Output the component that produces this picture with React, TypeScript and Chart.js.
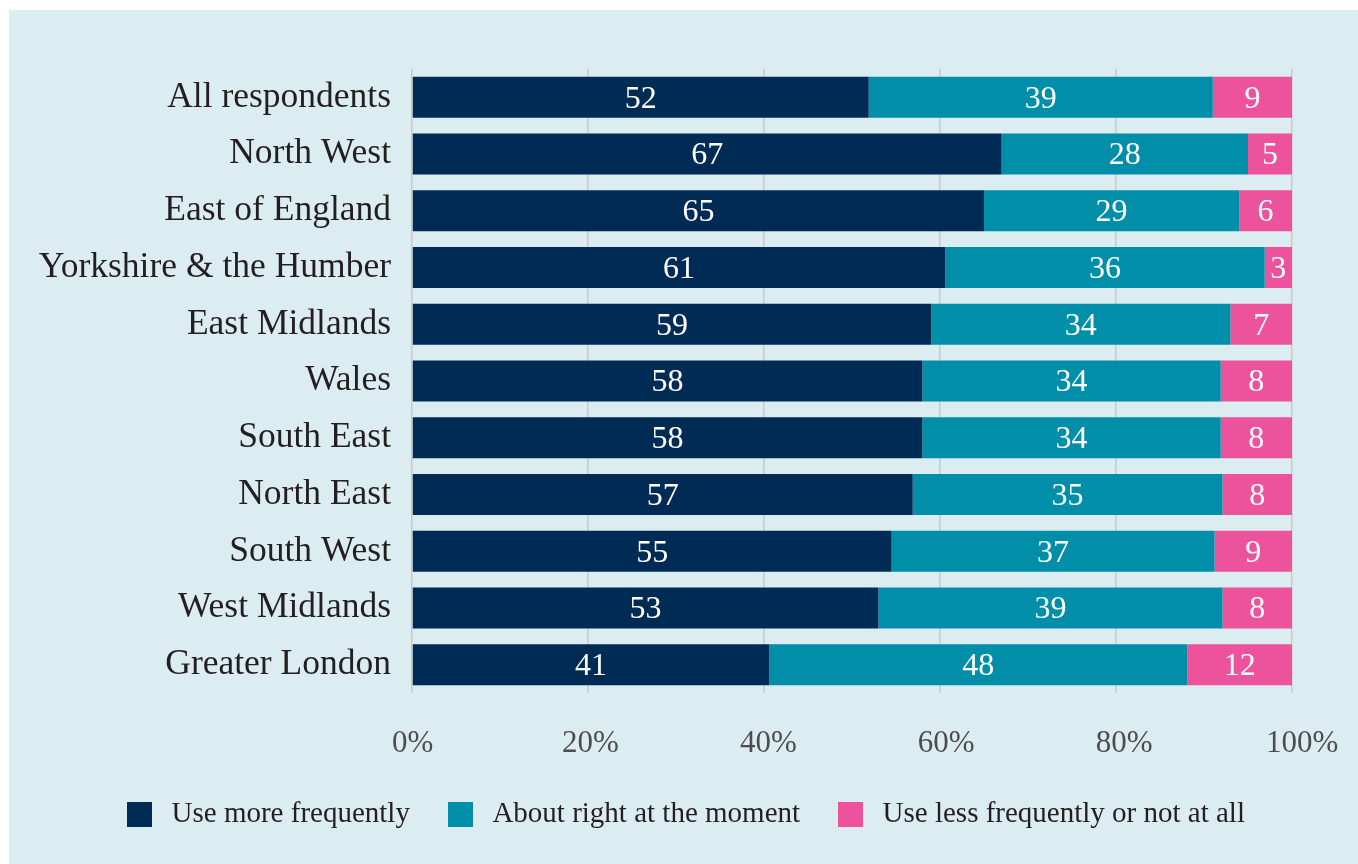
import React, { useEffect, useRef } from "react";
import { Chart, registerables } from "chart.js";

Chart.register(...registerables);

const categories = [
  "All respondents",
  "North West",
  "East of England",
  "Yorkshire & the Humber",
  "East Midlands",
  "Wales",
  "South East",
  "North East",
  "South West",
  "West Midlands",
  "Greater London",
];

const seriesNames = [
  "Use more frequently",
  "About right at the moment",
  "Use less frequently or not at all",
];

const useMore = [51.9, 67.0, 65.0, 60.6, 59.0, 58.0, 58.0, 56.9, 54.5, 53.0, 40.6];
const aboutRight = [39.1, 28.0, 29.0, 36.3, 34.0, 33.9, 33.9, 35.2, 36.7, 39.1, 47.5];
const useLess = [9.0, 5.0, 6.0, 3.1, 7.0, 8.1, 8.1, 7.9, 8.8, 7.9, 11.9];

const xTicks = [0, 20, 40, 60, 80, 100];

const COLORS = ["#002b55", "#008ea9", "#ec539c"];
const FONT = "'Liberation Serif', serif";

const segmentLabels = {
  id: "segmentLabels",
  afterDatasetsDraw(chart: any) {
    const ctx = chart.ctx;
    ctx.save();
    ctx.fillStyle = "#ffffff";
    ctx.font = `32px ${FONT}`;
    ctx.textAlign = "center";
    ctx.textBaseline = "middle";
    chart.data.datasets.forEach((ds: any, di: number) => {
      const meta = chart.getDatasetMeta(di);
      meta.data.forEach((el: any, i: number) => {
        const v = ds.data[i];
        const cx = (el.x + el.base) / 2;
        ctx.fillText(String(Math.round(v)), cx, el.y + 2);
      });
    });
    ctx.restore();
  },
};

function makeBox(color: string) {
  const c = document.createElement("canvas");
  c.width = 25;
  c.height = 25;
  const g = c.getContext("2d")!;
  g.fillStyle = color;
  g.fillRect(0, 0, 25, 25);
  return c;
}

export default function App() {
  const ref = useRef<HTMLCanvasElement | null>(null);

  useEffect(() => {
    if (!ref.current) return;
    const boxes = COLORS.map(makeBox);
    const chart = new Chart(ref.current, {
      type: "bar",
      data: {
        labels: categories,
        datasets: [useMore, aboutRight, useLess].map((d, i) => ({
          label: seriesNames[i],
          data: d,
          backgroundColor: COLORS[i],
          borderWidth: 0,
          barPercentage: 0.723,
          categoryPercentage: 1,
        })),
      },
      options: {
        indexAxis: "y",
        animation: false,
        responsive: false,
        maintainAspectRatio: false,
        layout: { padding: { left: 0, right: 0, top: 59, bottom: 25 } },
        scales: {
          x: {
            stacked: true,
            min: 0,
            max: 100,
            afterBuildTicks: (scale: any) => {
              scale.ticks = xTicks.map((v) => ({ value: v }));
            },
            afterFit: (scale: any) => {
              scale.height = 0;
              scale.paddingLeft = 0;
              scale.paddingRight = 0;
            },
            ticks: { display: false },
            grid: { color: "#c8cbce", lineWidth: 1.5, drawTicks: false },
            border: { display: false },
          },
          xLabels: {
            type: "linear",
            position: "bottom",
            min: -0.0675,
            max: 98.87,
            afterBuildTicks: (scale: any) => {
              scale.ticks = xTicks.map((v) => ({ value: v }));
            },
            afterFit: (scale: any) => {
              scale.height = 74;
              scale.paddingLeft = 0;
              scale.paddingRight = 0;
            },
            ticks: {
              callback: (v: any) => `${v}%`,
              font: { family: FONT, size: 31 },
              color: "#4d4d4d",
              padding: 32,
              maxRotation: 0,
              autoSkip: false,
            },
            grid: { display: false, drawTicks: false },
            border: { display: false },
          },
          y: {
            stacked: true,
            afterFit: (scale: any) => {
              scale.width = 403;
            },
            ticks: {
              font: { family: FONT, size: 35.5 },
              color: "#231f20",
              padding: 13,
            },
            grid: { display: false },
            border: { display: false },
          },
          rightSpace: {
            type: "linear",
            position: "right",
            display: true,
            afterFit: (scale: any) => {
              scale.width = 66;
            },
            ticks: { display: false },
            grid: { display: false, drawTicks: false },
            border: { display: false },
          },
        },
        plugins: {
          legend: {
            position: "bottom",
            labels: {
              usePointStyle: true,
              pointStyleWidth: 35,
              boxHeight: 25,
              padding: 33,
              color: "#231f20",
              font: { family: FONT, size: 29 },
              generateLabels: (ch: any) =>
                ch.data.datasets.map((ds: any, i: number) => ({
                  text: ds.label,
                  fillStyle: COLORS[i],
                  strokeStyle: COLORS[i],
                  lineWidth: 0,
                  pointStyle: boxes[i],
                  hidden: false,
                  datasetIndex: i,
                  fontColor: "#231f20",
                })),
            },
          },
          tooltip: { enabled: false },
        },
      },
      plugins: [segmentLabels],
    });
    return () => chart.destroy();
  }, []);

  return (
    <div
      style={{
        position: "fixed",
        left: 9,
        top: 10,
        width: 1349,
        height: 854,
        background: "#dcedf2",
      }}
    >
      <canvas ref={ref} width={1349} height={854} style={{ display: "block" }} />
    </div>
  );
}
